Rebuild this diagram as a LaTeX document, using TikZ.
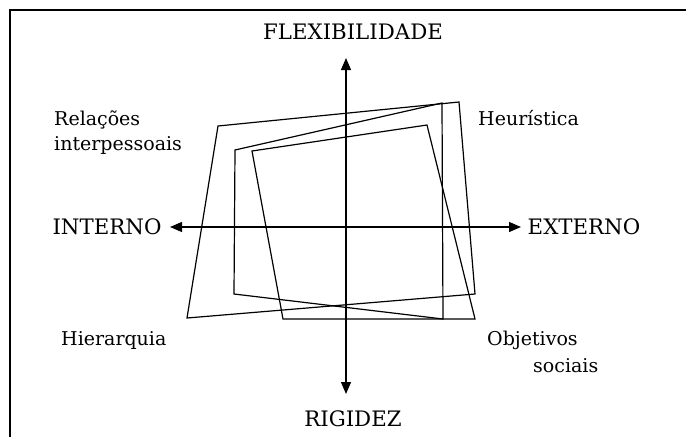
\documentclass[tikz,border=0pt]{standalone}
\usepackage{fontspec}
\setmainfont{DejaVu Serif}
\usetikzlibrary{arrows.meta}
\begin{document}
\begin{tikzpicture}
  [x=1pt,y=-1pt,
   every node/.style={inner sep=0pt,font=\fontsize{19}{25}\selectfont},
   axislabel/.style={anchor=center,font=\fontsize{21.3}{25}\selectfont},
   quadlabel/.style={anchor=base west,align=left},
   polyline/.style={line width=1.2pt},
   axisline/.style={line width=1.3pt,{Triangle[length=12pt,width=10pt]}-{Triangle[length=12pt,width=10pt]}}]
  \useasboundingbox (0,0) rectangle (686,437);
  % frame
  \draw[line width=2pt] (10,437) -- (10,10) -- (686,10);

  % axes
  \coordinate (up) at (346,58);
  \coordinate (down) at (346,394);
  \coordinate (in) at (170,227);
  \coordinate (ex) at (521,227);
  \draw[axisline] (up) -- (down);
  \draw[axisline] (in) -- (ex);

  \node[axislabel] (flex) at (353,32) {FLEXIBILIDADE};
  \node[axislabel] (rig) at (353,419) {RIGIDEZ};
  \node[axislabel] (int) at (107,227) {INTERNO};
  \node[axislabel] (ext) at (584,227) {EXTERNO};

  \node[quadlabel] (rel) at (54,150) {Relações\\interpessoais};
  \node[quadlabel] (heu) at (478,125) {Heurística};
  \node[quadlabel] (hie) at (61,345) {Hierarquia};
  \node[quadlabel] (obj) at (487,345) {Objetivos};
  \node[quadlabel] (soc) at (533,372) {sociais};

  % polygons
  \coordinate (a1) at (218,126);
  \coordinate (a2) at (459,102);
  \coordinate (a3) at (475,294);
  \coordinate (a4) at (187,318);
  \coordinate (b1) at (235,150);
  \coordinate (b2) at (442,103);
  \coordinate (b3) at (443,319);
  \coordinate (b4) at (234,294);
  \coordinate (c1) at (252,151);
  \coordinate (c2) at (427,125);
  \coordinate (c3) at (475,319);
  \coordinate (c4) at (283,319);

  \foreach \p in {a,b,c}
    \draw[polyline] (\p1) -- (\p2) -- (\p3) -- (\p4) -- cycle;
\end{tikzpicture}
\end{document}
